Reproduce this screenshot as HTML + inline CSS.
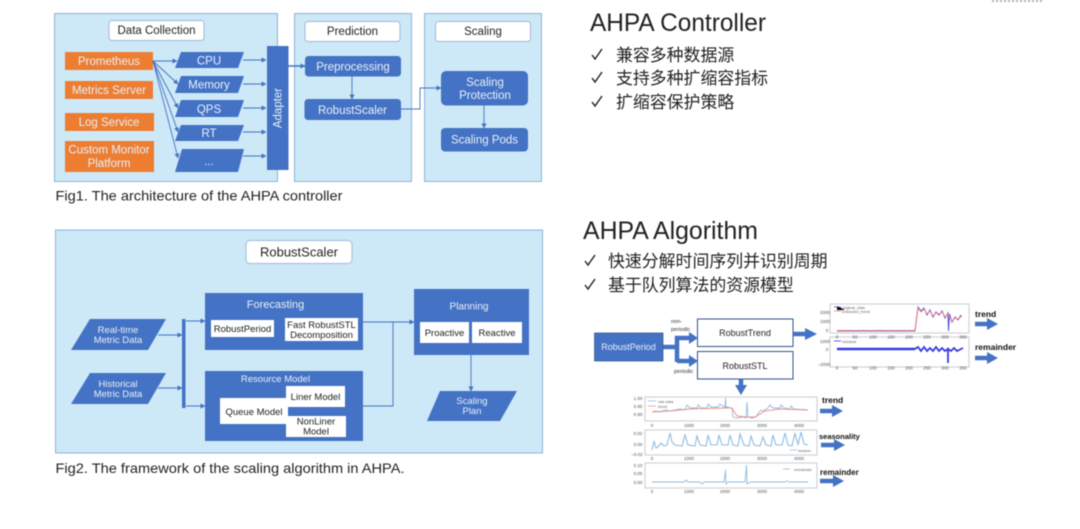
<!DOCTYPE html>
<html>
<head>
<meta charset="utf-8">
<style>
html,body{margin:0;padding:0;background:#fff;width:1080px;height:529px;overflow:hidden}
svg{display:block;filter:blur(.5px)}
text{font-family:"Liberation Sans","Noto Sans CJK SC",sans-serif}
.p{fill:#cde8f6;stroke:#8fb3d9;stroke-width:1}
.t{fill:#fff;stroke:#9dbbdd;stroke-width:1}
.b{fill:#4472c4}
.o{fill:#ed7d31}
.w{fill:#fff}
.lw{fill:#e8f0fa;font-size:11.5px;text-anchor:middle}
.ls{fill:#e8f0fa;font-size:9.5px;text-anchor:middle}
.d{fill:#222;font-size:9.5px;text-anchor:middle}
.c{fill:none;stroke:#4472c4;stroke-width:.9}
.ttl{fill:#222;font-size:25px}
.cn{fill:#222;font-size:16.9px}
.cap{fill:#222;font-size:14px}
.ck{fill:none;stroke:#222;stroke-width:1.4}
.fr{fill:#fff;stroke:#cfd4d8;stroke-width:1.2}
.tick{fill:#555;font-size:4.5px;text-anchor:middle}
.fat{fill:none;stroke:#4472c4;stroke-width:4.500}
.lab{fill:#111;font-size:8.5px;font-weight:bold}
.leg{fill:#666;font-size:4px}
</style>
</head>
<body>
<svg width="1080" height="529" viewBox="0 0 1080 529" xmlns="http://www.w3.org/2000/svg">
<defs>
<marker id="a" markerWidth="6" markerHeight="6" refX="4.500" refY="2.500" orient="auto" markerUnits="userSpaceOnUse"><path d="M0 0L5 2.500L0 5Z" fill="#4472c4"/></marker>
</defs>
<rect width="1080" height="529" fill="#fff"/>
<path d="M992 1H1043" stroke="#999" stroke-width="1.5" stroke-dasharray="2 2"/>

<!-- Fig 1 -->
<rect class="p" x="54.500" y="13.500" width="223" height="168"/>
<rect class="p" x="294.500" y="13.500" width="117" height="168"/>
<rect class="p" x="424.500" y="13.500" width="117" height="168"/>
<rect class="t" x="109" y="20.500" width="95" height="20" rx="3"/>
<rect class="t" x="305" y="21.500" width="95" height="20" rx="3"/>
<rect class="t" x="435.500" y="21.500" width="95" height="20" rx="3"/>
<text x="156.500" y="34" text-anchor="middle" font-size="11.500" fill="#222">Data Collection</text>
<text x="352.500" y="35" text-anchor="middle" font-size="11.500" fill="#222">Prediction</text>
<text x="483" y="35" text-anchor="middle" font-size="11.500" fill="#222">Scaling</text>

<rect class="o" x="65" y="52" width="88" height="18"/>
<rect class="o" x="65" y="81" width="88" height="18"/>
<rect class="o" x="65" y="113" width="89" height="18"/>
<rect class="o" x="65" y="141" width="89" height="31"/>
<text class="lw" x="109" y="65">Prometheus</text>
<text class="lw" x="109" y="94">Metrics Server</text>
<text class="lw" x="109" y="126">Log Service</text>
<text class="lw" x="109" y="153.500">Custom Monitor</text>
<text class="lw" x="109" y="167">Platform</text>

<polygon class="b" points="175,68 181,52 244,52 238,68"/>
<polygon class="b" points="175,93 181,76 244,76 238,93"/>
<polygon class="b" points="175,117 181,100 244,100 238,117"/>
<polygon class="b" points="175,141 181,125 244,125 238,141"/>
<polygon class="b" points="175,172 182,149 244,149 238,172"/>
<text class="lw" x="209" y="64.500">CPU</text>
<text class="lw" x="209" y="88.500">Memory</text>
<text class="lw" x="209" y="113">QPS</text>
<text class="lw" x="209" y="137">RT</text>
<text class="lw" x="209" y="165">...</text>

<g class="c">
<path d="M153 61H177" marker-end="url(#a)"/>
<path d="M153 61L178 84" marker-end="url(#a)"/>
<path d="M153 61L178 108" marker-end="url(#a)"/>
<path d="M153 61L178 132" marker-end="url(#a)"/>
<path d="M153 61L178 158" marker-end="url(#a)"/>
<path d="M243 60H266" marker-end="url(#a)"/>
<path d="M243 84H266" marker-end="url(#a)"/>
<path d="M243 108H266" marker-end="url(#a)"/>
<path d="M243 132H266" marker-end="url(#a)"/>
<path d="M243 156H266" marker-end="url(#a)"/>
<path d="M288 66H305" stroke-width="1.600" marker-end="url(#a)"/>
<path d="M352 76V99" marker-end="url(#a)"/>
<path d="M401 109H420V88H441" marker-end="url(#a)"/>
<path d="M484 105V128" marker-end="url(#a)"/>
</g>

<rect class="b" x="267" y="46" width="21.500" height="124"/>
<text class="lw" transform="translate(281.500 108) rotate(-90)" y="0" x="0">Adapter</text>
<rect class="b" x="305" y="56" width="96" height="20.500" rx="3.500"/>
<rect class="b" x="304.500" y="99" width="96.500" height="21" rx="3.500"/>
<rect class="b" x="441" y="71" width="87" height="34.500" rx="5"/>
<rect class="b" x="441" y="128" width="87" height="23.500" rx="4"/>
<text class="lw" x="353" y="70.500">Preprocessing</text>
<text class="lw" x="352.500" y="114">RobustScaler</text>
<text class="lw" x="485" y="86">Scaling</text>
<text class="lw" x="485" y="99">Protection</text>
<text class="lw" x="484.500" y="143.500">Scaling Pods</text>
<text class="cap" x="55.500" y="200.500" textLength="287" lengthAdjust="spacingAndGlyphs">Fig1. The architecture of the AHPA controller</text>

<!-- Fig 2 -->
<rect class="p" x="55.500" y="230" width="487" height="223"/>
<rect class="t" x="246" y="240.500" width="106" height="23" rx="4"/>
<text x="299" y="256.500" text-anchor="middle" font-size="13" fill="#222">RobustScaler</text>

<polygon class="b" points="71,350 90,319 166,319 148,350"/>
<polygon class="b" points="71,404 90,373 166,373 148,404"/>
<polygon class="b" points="427,421 440,391 517,391 500,421"/>
<text class="ls" x="118" y="333">Real-time</text>
<text class="ls" x="118" y="343">Metric Data</text>
<text class="ls" x="118" y="387">Historical</text>
<text class="ls" x="118" y="397">Metric Data</text>
<text class="ls" x="472" y="404">Scaling</text>
<text class="ls" x="472" y="414">Plan</text>

<rect class="b" x="182" y="319" width="3.500" height="89"/>
<g class="c">
<path d="M158 335H182" marker-end="url(#a)"/>
<path d="M158 388H182" marker-end="url(#a)"/>
<path d="M186 321H205" marker-end="url(#a)"/>
<path d="M186 406H205" marker-end="url(#a)"/>
<path d="M363 322H414" marker-end="url(#a)"/>
<path d="M363 406H393V322"/>
<path d="M471 355V391" marker-end="url(#a)"/>
</g>

<rect class="b" x="205" y="293" width="158" height="57"/>
<rect class="b" x="205" y="371" width="158" height="70"/>
<rect class="b" x="414" y="289" width="115" height="66"/>
<text class="ls" x="275.500" y="308" style="font-size:11px">Forecasting</text>
<text class="ls" x="275.500" y="382">Resource Model</text>
<text class="ls" x="469" y="309.500" style="font-size:10px">Planning</text>

<rect class="w" x="211" y="320" width="63" height="17"/>
<rect class="w" x="285" y="318" width="73" height="23"/>
<rect class="w" x="220" y="398" width="68" height="26"/>
<rect class="w" x="286" y="386" width="59" height="21"/>
<rect class="w" x="286" y="416" width="60" height="21"/>
<rect class="w" x="420" y="322" width="49" height="21"/>
<rect class="w" x="472" y="322" width="50" height="21"/>
<path class="c" d="M275 329H285" marker-end="url(#a)"/>
<text class="d" x="242.500" y="332">RobustPeriod</text>
<text class="d" x="321.500" y="328">Fast RobustSTL</text>
<text class="d" x="321.500" y="338">Decomposition</text>
<text class="d" x="254" y="415">Queue Model</text>
<text class="d" x="315.500" y="400">Liner Model</text>
<text class="d" x="316" y="424.500">NonLiner</text>
<text class="d" x="316" y="434.500">Model</text>
<text class="d" x="444.500" y="336">Proactive</text>
<text class="d" x="497" y="336">Reactive</text>
<text class="cap" x="55.500" y="473" textLength="349" lengthAdjust="spacingAndGlyphs">Fig2. The framework of the scaling algorithm in AHPA.</text>

<!-- Right text -->
<text class="ttl" x="590" y="31" textLength="176" lengthAdjust="spacingAndGlyphs">AHPA Controller</text>
<path class="ck" d="M592 55L595 59L602 49"/>
<path class="ck" d="M592 78L595 82L602 72"/>
<path class="ck" d="M592 102L595 106L602 96"/>
<text class="cn" x="616" y="61">兼容多种数据源</text>
<text class="cn" x="616" y="84">支持多种扩缩容指标</text>
<text class="cn" x="616" y="108">扩缩容保护策略</text>

<text class="ttl" x="583" y="239" textLength="175" lengthAdjust="spacingAndGlyphs">AHPA Algorithm</text>
<path class="ck" d="M585 261L588 265L595 255"/>
<path class="ck" d="M585 285L588 289L595 279"/>
<text class="cn" x="608" y="267">快速分解时间序列并识别周期</text>
<text class="cn" x="608" y="291">基于队列算法的资源模型</text>

<!-- Algorithm diagram -->
<rect x="594.500" y="333" width="68.500" height="28" fill="#4472c4" stroke="#2f528f" stroke-width=".7"/>
<text class="lw" x="628.500" y="350" style="font-size:9px">RobustPeriod</text>
<rect x="697.500" y="319" width="95.500" height="27.500" fill="#fff" stroke="#2f528f" stroke-width="1"/>
<rect x="697.500" y="351.500" width="95.500" height="27.500" fill="#fff" stroke="#2f528f" stroke-width="1"/>
<text x="745" y="336" text-anchor="middle" font-size="9" fill="#222">RobustTrend</text>
<text x="745" y="369" text-anchor="middle" font-size="9" fill="#222">RobustSTL</text>
<text x="671" y="323" font-size="5.500" fill="#333">non-</text>
<text x="671" y="331" font-size="5.500" fill="#333">periodic</text>
<text x="674" y="373" font-size="5.500" fill="#333">periodic</text>
<path class="fat" d="M663 347H677M677 362V338H690M677 361H690"/>
<polygon class="b" points="689,332 698,338 689,344"/>
<polygon class="b" points="689,355 698,361 689,367"/>
<path class="fat" d="M793 334H806"/>
<polygon class="b" points="805,328 817,334 805,340"/>
<path class="fat" d="M741 379V386"/>
<polygon class="b" points="735,385 747,385 741,395"/>

<!-- Top charts -->
<rect class="fr" x="830" y="304" width="139" height="29"/>
<rect class="fr" x="830" y="337" width="139" height="30"/>
<path d="M837 306V310H845M837 308H845" stroke="none"/>
<path d="M834 307H841" stroke="#5050e0" stroke-width=".8"/>
<path d="M834 311H841" stroke="#f08080" stroke-width=".8"/>
<text class="leg" x="842" y="309">original_data</text>
<text class="leg" x="842" y="313">extracted_trend</text>
<path d="M834 341H841" stroke="#3a3ae0" stroke-width=".8"/>
<text class="leg" x="842" y="343">residual</text>
<path d="M837 331H915L918 307L921 311L924 308L927 315L930 310L933 317L936 312L939 315L942 311L945 318L948 313L948.500 331L949.500 314L952 322L955 317L958 320L961 315" fill="none" stroke="#5050e0" stroke-width="1"/>
<path d="M837 330.500H915L918 308L921 312L924 309L927 314L930 311L933 316L936 313L939 314L942 312L945 317L948 314L952 321L955 318L958 319L962 316" fill="none" stroke="#f08080" stroke-width="1"/>
<path d="M837 349H915" stroke="#3a3ae0" stroke-width="2.400" fill="none"/>
<path d="M915 349L918 347L921 351L924 347L927 351L930 348L933 351L936 347L939 351L942 348L945 351L948 349V363V349L951 351L954 348L957 351L963 348" fill="none" stroke="#3a3ae0" stroke-width="1.800"/>
<text class="tick" x="837" y="338.500">0</text>
<text class="tick" x="855" y="338.500">50</text>
<text class="tick" x="873" y="338.500">100</text>
<text class="tick" x="891" y="338.500">150</text>
<text class="tick" x="909" y="338.500">200</text>
<text class="tick" x="927" y="338.500">250</text>
<text class="tick" x="945" y="338.500">300</text>
<text class="tick" x="963" y="338.500">350</text>
<text class="tick" x="837" y="369.500">0</text>
<text class="tick" x="855" y="369.500">50</text>
<text class="tick" x="873" y="369.500">100</text>
<text class="tick" x="891" y="369.500">150</text>
<text class="tick" x="909" y="369.500">200</text>
<text class="tick" x="927" y="369.500">250</text>
<text class="tick" x="945" y="369.500">300</text>
<text class="tick" x="963" y="369.500">350</text>
<text class="tick" x="825" y="314">2000</text>
<text class="tick" x="825" y="323">1000</text>
<text class="tick" x="827" y="332">0</text>
<text class="tick" x="825" y="343">1000</text>
<text class="tick" x="827" y="351">0</text>
<text class="tick" x="824" y="366">−2000</text>
<text class="lab" x="975" y="317">trend</text>
<text class="lab" x="975" y="350">remainder</text>
<path class="fat" d="M975 324H988"/><polygon class="b" points="987,318 998,324 987,330"/>
<path class="fat" d="M975 358H988"/><polygon class="b" points="987,352 998,358 987,364"/>

<!-- Bottom charts -->
<rect class="fr" x="645" y="397" width="172" height="24"/>
<rect class="fr" x="645" y="430" width="172" height="25"/>
<rect class="fr" x="645" y="463" width="172" height="25"/>
<path d="M648 401H656" stroke="#8fbde0" stroke-width=".8"/>
<path d="M648 406H656" stroke="#f0908c" stroke-width=".8"/>
<text class="leg" x="658" y="403">raw data</text>
<text class="leg" x="658" y="408">trend</text>
<path d="M790 450H797" stroke="#8fbde0" stroke-width=".8"/>
<text class="leg" x="798" y="452">season</text>
<path d="M783 469H790" stroke="#8fbde0" stroke-width=".8"/>
<text class="leg" x="794" y="471">remainder</text>
<path d="M652 412L656 411L660 412L665 410L670 411L680 409L685 410L687 405L690 408L697 408L698 405L701 408L707 408L708 404L711 407L718 407L720 404L724 407L729 407L725 407L725.500 398L726 408L732 408L733 417L737 418L743 417L746 418L747 402L748 417L752 418L756 417L759 412L761 410L763 411L768 408L770 405L773 408L780 408L781 405L784 408L790 409L791 406L794 409L808 410" fill="none" stroke="#8fbde0" stroke-width=".9"/>
<path d="M652 412L670 411L690 409L725 408L732 408L737 416L746 417L755 417L765 411L780 409L808 410" fill="none" stroke="#f0908c" stroke-width="1"/>
<path d="M652 450L654 441L656 448L658 447L661 443L664 446L667 445L670 433L672 442L675 445L682 446L685 435L688 445L695 446L697 436L700 445L706 446L708 435L711 445L717 445L719 435L722 445L728 445L730 435L733 445L738 446L740 434L744 445L749 446L751 436L754 445L760 446L763 437L766 445L771 446L773 435L776 445L782 445L785 433L788 445L792 446L795 433L798 445L801 432L804 444L808 445" fill="none" stroke="#8fbde0" stroke-width="1.100"/>
<path d="M652 482H684L686 480L688 482H700L702 484L704 482H724L725.500 470L726 484L728 482H745L746.500 465L747 484L750 482H785L787 481L790 482H808" fill="none" stroke="#8fbde0" stroke-width=".9"/>
<g>
<text class="tick" x="652" y="427">0</text><text class="tick" x="689" y="427">1000</text><text class="tick" x="725" y="427">2000</text><text class="tick" x="762" y="427">3000</text><text class="tick" x="799" y="427">4000</text>
<text class="tick" x="652" y="460">0</text><text class="tick" x="689" y="460">1000</text><text class="tick" x="725" y="460">2000</text><text class="tick" x="762" y="460">3000</text><text class="tick" x="799" y="460">4000</text>
<text class="tick" x="652" y="493">0</text><text class="tick" x="689" y="493">1000</text><text class="tick" x="725" y="493">2000</text><text class="tick" x="762" y="493">3000</text><text class="tick" x="799" y="493">4000</text>
<text class="tick" x="638" y="400">1.00</text><text class="tick" x="638" y="408">0.95</text><text class="tick" x="638" y="416">0.90</text>
<text class="tick" x="638" y="435">0.02</text><text class="tick" x="638" y="446">0.00</text><text class="tick" x="637" y="456">−0.02</text>
<text class="tick" x="638" y="467">0.10</text><text class="tick" x="638" y="475">0.05</text><text class="tick" x="638" y="484">0.00</text>
</g>
<text class="lab" x="822" y="403">trend</text>
<text class="lab" x="819" y="439" style="font-size:7.500px">seasonality</text>
<text class="lab" x="820" y="475" style="font-size:8px">remainder</text>
<path class="fat" d="M820 411H833"/><polygon class="b" points="832,405 843,411 832,417"/>
<path class="fat" d="M821 445H835"/><polygon class="b" points="834,439 845,445 834,451"/>
<path class="fat" d="M820 481H834"/><polygon class="b" points="833,475 844,481 833,487"/>
</svg>
</body>
</html>
